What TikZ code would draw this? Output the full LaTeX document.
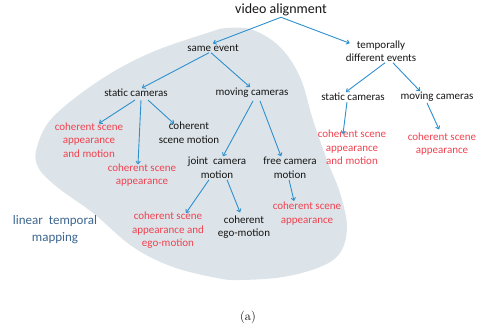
\documentclass[tikz,border=0pt]{standalone}
\usepackage{fontspec}
\usepackage{xcolor}
\usetikzlibrary{arrows.meta,calc}
\newfontfamily\calib{Carlito}

\definecolor{blobgray}{HTML}{DDE4E9}
\definecolor{arrblue}{HTML}{2E8FCE}
\definecolor{cohred}{HTML}{F0414F}
\definecolor{mapblue}{HTML}{3C6590}
\definecolor{txtdark}{HTML}{151515}

\tikzset{
  lbl/.style={inner sep=1pt, align=center, text=txtdark,
    font=\calib\fontsize{11}{13.5}\selectfont},
  redlbl/.style={lbl, text=cohred},
  arr/.style={draw=arrblue, line width=0.9pt, -{To[length=3.5pt,width=5pt]}}
}

\begin{document}
\begin{tikzpicture}[x=1pt,y=-1pt]
  \useasboundingbox (0,0) rectangle (481,329);
  % the shaded region
  \fill[blobgray] plot[smooth cycle, tension=0.6] coordinates {
    (227,28) (207,33) (150,53) (100,80) (53,117) (37,147) (38,167)
    (57,187) (93,213) (133,247) (173,267) (217,278) (240,280)
    (283,277) (320,267) (340,253) (347,227) (340,193) (327,160)
    (313,120) (300,77) (280,47) (253,30)};

  \node[lbl, font=\calib\fontsize{14}{16}\selectfont] (va) at (281,10) {video alignment};
  \node[lbl] (same) at (213,48) {same event};
  \node[lbl] (temp) at (381,51) {temporally\\different events};

  \node[lbl] (scL) at (136,93) {static cameras};
  \node[lbl] (mcL) at (252,93) {moving cameras};
  \node[lbl] (scR) at (353,97) {static cameras};
  \node[lbl] (mcR) at (437,97) {moving cameras};

  \node[redlbl] (appmotL) at (89,140) {coherent scene\\appearance\\and motion};
  \node[redlbl] (appL) at (142,175) {coherent scene\\appearance};
  \node[lbl] (scmot) at (189,132.5) {coherent\\scene motion};

  \node[lbl] (joint) at (217,168) {joint\ \ camera\\motion};
  \node[lbl] (free) at (290,168) {free camera\\motion};

  \node[redlbl] (appego) at (168,230.5) {coherent scene\\appearance and\\ego-motion};
  \node[lbl] (ego) at (244,227) {coherent\\ego-motion};
  \node[redlbl] (appF) at (307,213.5) {coherent scene\\appearance};

  \node[redlbl] (appmotR) at (352,147.5) {coherent scene\\appearance\\and motion};
  \node[redlbl] (appR) at (442,144) {coherent scene\\appearance};

  \node[lbl, text=mapblue, font=\calib\fontsize{13}{17}\selectfont] (map) at (55,229.5) {linear\ \ temporal\\mapping};

  \node[inner sep=1pt, font=\fontsize{12.5}{14}\selectfont] (cap) at (248,317) {(a)};

  % connectors
  \draw[arr] (va.south) -- (same.north);
  \draw[arr] (va.south) -- ($(temp.north west)+(5,4)$);
  \draw[arr] ($(same.south)+(-4,0)$) -- ($(scL.north)+(6,0)$);
  \draw[arr] ($(same.south)+(-2,0)$) -- ($(mcL.north)+(-2,0)$);
  \draw[arr] ($(temp.south)+(4,0)$) -- ($(scR.north)+(-7,0)$);
  \draw[arr] ($(temp.south)+(12,0)$) -- ($(mcR.north)+(-17,0)$);
  \draw[arr] ($(scL.south)+(-1,2)$) -- ($(appmotL.north)+(10,2)$);
  \draw[arr] ($(scL.south)+(5,2)$) -- ($(appL.north)+(-4,2)$);
  \draw[arr] ($(scL.south)+(12,2)$) -- ($(scmot.north)+(-15,3)$);
  \draw[arr] ($(mcL.south)+(1,2)$) -- ($(joint.north)+(6,0)$);
  \draw[arr] ($(mcL.south)+(8,2)$) -- ($(free.north)+(-9,0)$);
  \draw[arr] ($(joint.south)+(-8,0)$) -- ($(appego.north)+(18,2)$);
  \draw[arr] ($(joint.south)+(10,0)$) -- ($(ego.north)+(-4,-2)$);
  \draw[arr] ($(free.south)+(-1,0)$) -- ($(appF.north)+(-13,0)$);
  \draw[arr] ($(scR.south)+(-6,0)$) -- ($(appmotR.north)+(-9,5)$);
  \draw[arr] ($(mcR.south)+(-10,0)$) -- ($(appR.north)+(-3,-2)$);
\end{tikzpicture}
\end{document}
